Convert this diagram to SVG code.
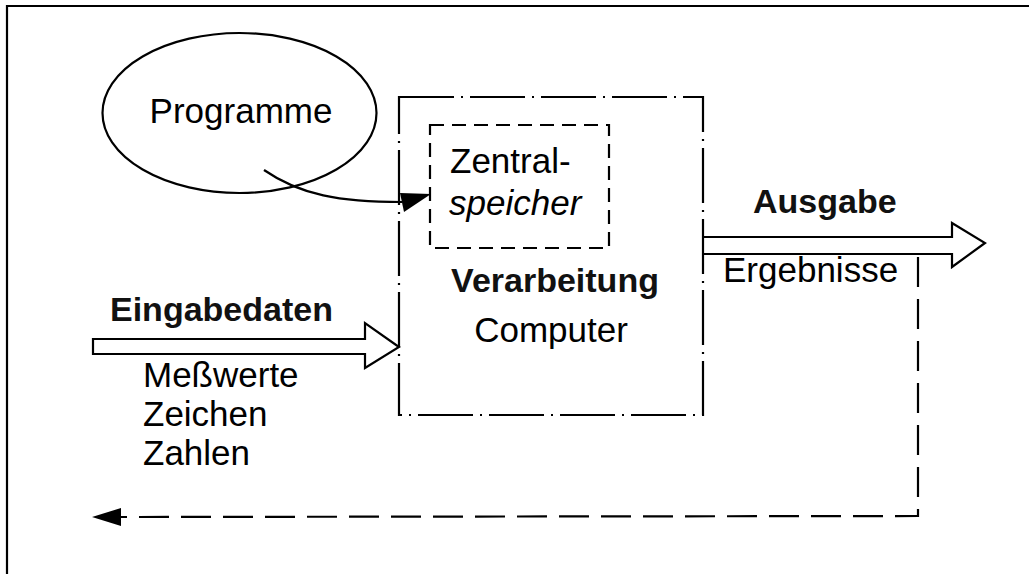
<svg xmlns="http://www.w3.org/2000/svg" width="1029" height="574" viewBox="0 0 1029 574">
<style>
.t{font-family:"Liberation Sans",Arial,sans-serif;font-size:35px;fill:#000}
.b{font-weight:bold;font-size:34px;fill:#111}
.i{font-style:italic}
.ln{fill:none;stroke:#000;stroke-width:2.2}
</style>
<rect width="1029" height="574" fill="#fff"/>
<g id="frame"><path d="M7,574 L7,6 L1029,6" class="ln" stroke-width="3"/></g>
<g id="programme">
<ellipse cx="239.5" cy="113" rx="137" ry="80" class="ln"/>
<text class="t" x="241" y="123" text-anchor="middle">Programme</text>
</g>
<g id="computer">
<rect x="399" y="97" width="304" height="318" class="ln" stroke-dasharray="55 7 2 7"/>
<text class="t b" x="555" y="292" text-anchor="middle">Verarbeitung</text>
<text class="t" x="551" y="342" text-anchor="middle">Computer</text>
</g>
<g id="zentralspeicher">
<rect x="430" y="125" width="179" height="123" class="ln" stroke-dasharray="14 8"/>
<text class="t" x="450" y="173">Zentral-</text>
<text class="t i" x="449" y="215">speicher</text>
</g>
<g id="eingabe">
<text class="t b" x="110" y="321">Eingabedaten</text>
<text class="t" x="143" y="387">Meßwerte</text>
<text class="t" x="143" y="426">Zeichen</text>
<text class="t" x="143" y="465">Zahlen</text>
</g>
<g id="ausgabe">
<text class="t b" x="753" y="213" font-size="33">Ausgabe</text>
<text class="t" x="723" y="282">Ergebnisse</text>
</g>
<g id="connectors">
<path d="M264,170 C300,195 340,202 402,202" class="ln"/>
<polygon points="400,193 431,194 404,212" fill="#000"/>
<path d="M93,339 L365,339 L365,323 L399,347 L365,368 L365,354 L93,354 Z" class="ln" fill="#fff"/>
<path d="M703,237 L952,237 L952,223 L985,243 L952,267 L952,254 L703,254" class="ln" fill="#fff"/>
<path d="M918,257 L918,516 L120,517" class="ln" stroke-dasharray="30 12"/>
<polygon points="92,517 121,508 121,526" fill="#000"/>
</g>
</svg>
